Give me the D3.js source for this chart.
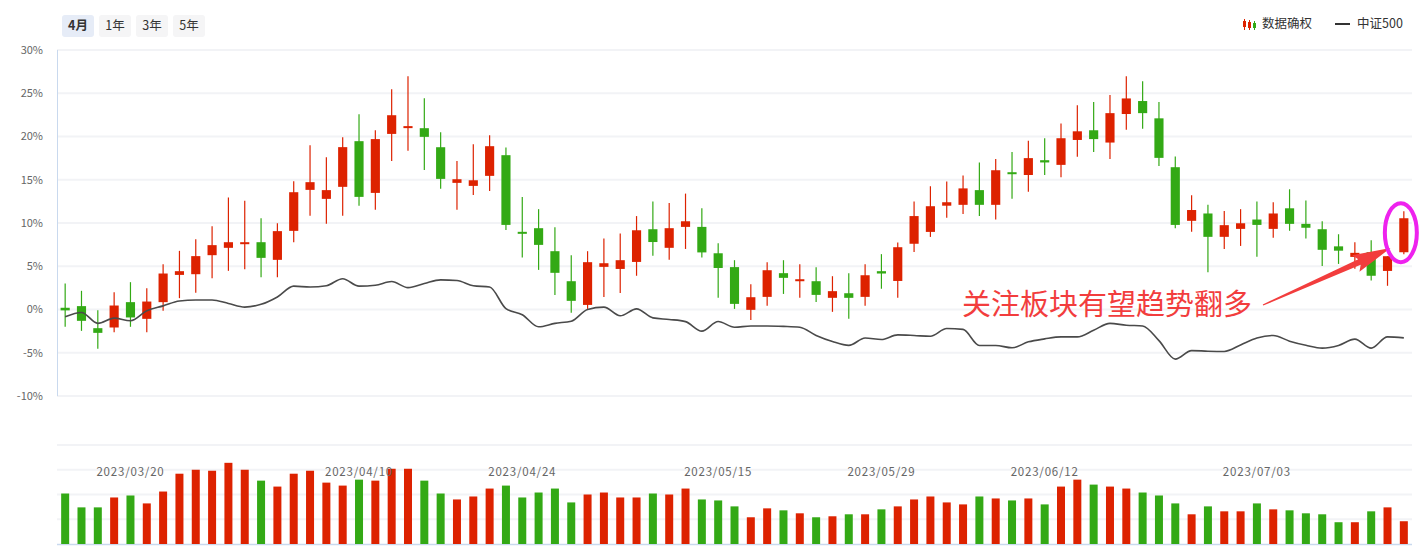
<!DOCTYPE html>
<html>
  <head>
    <meta charset="utf-8" />
    <title>数据确权 vs 中证500</title>
    <style>
      body { margin: 0; background: #fff; }
      svg text { font-family: "Noto Sans CJK SC", "Noto Sans", sans-serif; }
      .grid line { stroke: #f2f3f6; stroke-width: 2px; }
      .ylab { font-size: 11px; fill: #666; }
      .dlab { font-size: 11.5px; fill: #666; letter-spacing: 0.8px; }
    </style>
  </head>
  <body>
    <svg id="chart"></svg>

    <script src="https://cdn.jsdelivr.net/npm/d3@7"></script>
    <script>
      // trading days, 2023
      const dates = [
        "03/14","03/15","03/16","03/17","03/20","03/21","03/22","03/23","03/24","03/27",
        "03/28","03/29","03/30","03/31","04/03","04/04","04/06","04/07","04/10","04/11",
        "04/12","04/13","04/14","04/17","04/18","04/19","04/20","04/21","04/24","04/25",
        "04/26","04/27","04/28","05/04","05/05","05/08","05/09","05/10","05/11","05/12",
        "05/15","05/16","05/17","05/18","05/19","05/22","05/23","05/24","05/25","05/26",
        "05/29","05/30","05/31","06/01","06/02","06/05","06/06","06/07","06/08","06/09",
        "06/12","06/13","06/14","06/15","06/16","06/19","06/20","06/21","06/26","06/27",
        "06/28","06/29","06/30","07/03","07/04","07/05","07/06","07/07","07/10","07/11",
        "07/12","07/13","07/14"
      ].map((d) => "2023/" + d);

      // cumulative change, %
      const open = [
        0.2, 0.39, -2.16, -2.08, 0.85, -1.08, 0.85, 4.0, 4.08, 6.28,
        7.13, 7.6, 7.78, 5.74, 9.09, 13.83, 12.79, 14.18, 19.46, 13.48,
        20.3, 21.1, 20.96, 18.76, 14.64, 14.29, 15.45, 17.84, 8.98, 9.4,
        6.74, 3.27, 0.53, 4.93, 4.69, 5.5, 9.28, 7.13, 9.55, 9.55,
        6.5, 4.9, -0.04, 1.46, 4.2, 3.3, 3.27, 1.35, 1.88, 1.46,
        4.43, 3.3, 7.6, 8.97, 12.0, 12.1, 13.8, 12.1, 15.87, 15.55,
        17.26, 16.72, 19.6, 20.72, 19.3, 22.6, 24.1, 22.1, 16.45, 10.25,
        11.1, 8.4, 9.32, 10.4, 9.32, 11.7, 9.9, 9.28, 7.3, 6.08,
        6.63, 4.46, 6.62
      ];
      const close = [
        -0.1, -1.31, -2.7, 0.46, -0.92, 0.92, 4.16, 4.43, 6.17, 7.44,
        7.78, 7.78, 5.97, 9.06, 13.56, 14.72, 13.8, 18.77, 13.02, 19.7,
        22.46, 21.2, 19.96, 15.1, 15.06, 14.94, 18.88, 9.78, 8.75, 7.47,
        4.24, 1.0, 5.47, 5.35, 5.7, 9.16, 7.8, 9.4, 10.2, 6.6,
        4.8, 0.65, 1.42, 4.54, 3.66, 3.5, 1.69, 2.12, 1.35, 3.96,
        4.16, 7.2, 10.8, 11.94, 12.4, 14.0, 12.1, 16.1, 15.75, 17.5,
        17.0, 19.8, 20.6, 19.7, 22.7, 24.4, 22.7, 17.53, 9.78, 11.5,
        8.4, 9.75, 9.97, 9.78, 11.1, 9.9, 9.45, 6.9, 6.8, 6.55,
        3.9, 6.16, 10.55
      ];
      const high = [
        3.0, 2.16, -0.08, 2.0, 3.16, 2.47, 5.24, 6.78, 8.13, 9.63,
        12.95, 12.56, 10.56, 9.98, 14.84, 19.0, 17.6, 19.92, 22.58, 20.73,
        25.47, 26.97, 24.43, 20.5, 17.18, 19.1, 20.15, 18.72, 13.0, 11.6,
        9.5, 6.28, 6.74, 8.2, 8.8, 10.8, 12.5, 12.3, 13.4, 11.7,
        7.65, 5.7, 2.92, 5.47, 5.7, 5.24, 4.89, 3.85, 4.2, 5.24,
        6.4, 7.75, 12.5, 14.25, 14.8, 15.5, 17.0, 17.4, 18.2, 19.5,
        19.8, 21.5, 23.6, 24.0, 24.8, 26.97, 26.4, 24.0, 17.7, 13.2,
        12.1, 11.4, 11.6, 12.5, 12.4, 13.9, 12.6, 10.2, 8.7, 7.77,
        8.0, 6.16, 11.37
      ];
      const low = [
        -2.0, -2.47, -4.55, -2.62, -2.0, -2.62, -0.15, 1.31, 1.93, 3.62,
        4.47, 4.66, 3.74, 3.74, 7.78, 10.83, 9.9, 10.83, 11.98, 11.52,
        17.18, 18.34, 16.14, 13.95, 11.52, 13.25, 13.7, 9.2, 6.0, 4.58,
        1.67, -0.39, 0.07, 1.45, 1.9, 3.9, 6.2, 5.74, 7.0, 6.0,
        1.35, 0.07, -1.2, 0.42, 1.8, 1.35, 0.88, -0.27, -1.08, 0.42,
        2.4, 1.35, 6.66, 8.39, 10.6, 11.05, 10.8, 10.4, 12.8, 13.6,
        15.56, 15.3, 17.65, 18.2, 17.4, 20.77, 20.9, 16.6, 9.4, 9.0,
        4.3, 7.0, 7.35, 6.1, 8.3, 9.1, 8.2, 5.04, 5.27, 4.7,
        3.35, 2.74, 6.4
      ];
      // 中证500 cumulative change, %
      const csi500 = [
        -0.85, -0.35, -1.6, -1.0, -1.3, -0.15, 0.42, 0.98, 1.1, 1.1,
        0.7, 0.28, 0.6, 1.45, 2.7, 2.6, 2.75, 3.55, 2.7, 2.8,
        3.23, 2.53, 3.0, 3.43, 3.35, 2.75, 2.6, 0.1, -0.6, -2.0,
        -1.6, -1.35, 0.0, 0.27, -0.73, 0.07, -0.97, -1.15, -1.4, -2.5,
        -1.39, -2.05, -1.9, -1.9, -1.95, -2.05, -3.0, -3.7, -4.15, -3.3,
        -3.47, -2.93, -3.0, -3.1, -2.2, -2.3, -4.16, -4.16, -4.43, -3.74,
        -3.4, -3.17, -3.17, -2.4, -1.6, -1.82, -1.9, -3.6, -5.74, -4.75,
        -4.82, -4.85, -4.1, -3.3, -3.0, -3.66, -4.13, -4.47, -4.16, -3.43,
        -4.47, -3.17, -3.28
      ];
      const volume = [
        51, 37, 37, 47, 49, 41, 53, 71, 75, 74,
        82, 75, 64, 58, 71, 74, 62, 59, 65, 64,
        76, 76, 64, 51, 45, 48, 56, 59, 47, 52,
        56, 42, 50, 52, 47, 47, 51, 50, 56, 45,
        44, 38, 27, 36, 34, 31, 27, 28, 30, 30,
        35, 38, 45, 48, 42, 40, 48, 46, 44, 46,
        40, 58, 65, 60, 58, 56, 52, 49, 41, 30,
        38, 33, 33, 41, 35, 34, 31, 30, 22, 22,
        33, 37, 23
      ];
      const yTicks = [30, 25, 20, 15, 10, 5, 0, -5, -10];
      const dateTicks = ["2023/03/20", "2023/04/10", "2023/04/24", "2023/05/15", "2023/05/29", "2023/06/12", "2023/07/03"];
      const ranges = ["4月", "1年", "3年", "5年"];
      const note = "关注板块有望趋势翻多";

      const width = 1426;
      const height = 549;
      const red = "#dd2200";
      const green = "#33a915";

      const data = dates.map((d, i) => ({
        date: d, o: open[i], c: close[i], h: high[i], l: low[i],
        idx: csi500[i], vol: volume[i]
      }));

      const svg = d3.select("#chart").attr("width", width).attr("height", height);

      const x = d3.scaleBand().domain(dates).range([57, 1412]).padding(0);
      const cx = (d) => x(d) + x.bandwidth() / 2;
      const y = d3.scaleLinear().domain([-10, 30]).range([396, 50]);
      const yv = d3.scaleLinear().domain([0, 100]).range([544, 445]);

      // grid, price panel
      svg.append("g").attr("class", "grid")
        .selectAll("line").data(yTicks).join("line")
        .attr("x1", 57).attr("x2", 1412)
        .attr("y1", (d) => y(d)).attr("y2", (d) => y(d));
      svg.append("line")
        .attr("x1", 57.5).attr("x2", 57.5).attr("y1", 50).attr("y2", 396)
        .attr("stroke", "#c9d9ee").attr("stroke-width", 1);
      svg.append("g").selectAll("text").data(yTicks).join("text")
        .attr("class", "ylab")
        .attr("x", 43).attr("y", (d) => y(d))
        .attr("dy", "0.35em").attr("text-anchor", "end")
        .text((d) => d + "%");

      // grid, volume panel
      svg.append("g").attr("class", "grid")
        .selectAll("line").data([100, 75, 50, 25]).join("line")
        .attr("x1", 57).attr("x2", 1412)
        .attr("y1", (d) => yv(d)).attr("y2", (d) => yv(d));
      svg.append("line")
        .attr("x1", 57).attr("x2", 1412).attr("y1", 544.5).attr("y2", 544.5)
        .attr("stroke", "#c9d9ee").attr("stroke-width", 1.5);

      // candles
      const bw = x.bandwidth() * 0.56;
      const candle = svg.append("g").selectAll("g").data(data).join("g");
      candle.append("line")
        .attr("x1", (d) => cx(d.date)).attr("x2", (d) => cx(d.date))
        .attr("y1", (d) => y(d.h)).attr("y2", (d) => y(d.l))
        .attr("stroke", (d) => (d.c >= d.o ? red : green)).attr("stroke-width", 1.2);
      candle.append("rect")
        .attr("x", (d) => cx(d.date) - bw / 2).attr("width", bw)
        .attr("y", (d) => y(Math.max(d.o, d.c)))
        .attr("height", (d) => Math.max(2, Math.abs(y(d.o) - y(d.c))))
        .attr("fill", (d) => (d.c >= d.o ? red : green));

      // 中证500 line
      const line = d3.line().x((d) => cx(d.date)).y((d) => y(d.idx)).curve(d3.curveMonotoneX);
      svg.append("path").datum(data)
        .attr("d", line).attr("fill", "none")
        .attr("stroke", "#4a4a4a").attr("stroke-width", 1.6);

      // volume bars
      const vw = x.bandwidth() * 0.49;
      svg.append("g").selectAll("rect").data(data).join("rect")
        .attr("x", (d) => cx(d.date) - vw / 2).attr("width", vw)
        .attr("y", (d) => yv(d.vol)).attr("height", (d) => yv(0) - yv(d.vol))
        .attr("fill", (d) => (d.c >= d.o ? red : green));

      // date labels, drawn over the bars
      svg.append("g").selectAll("text").data(dateTicks).join("text")
        .attr("class", "dlab")
        .attr("x", (d) => cx(d)).attr("y", 472)
        .attr("dy", "0.35em").attr("text-anchor", "middle")
        .text((d) => d);

      // range buttons
      const btn = svg.append("g").selectAll("g").data(ranges).join("g")
        .attr("transform", (d, i) => `translate(${62 + i * 37},15)`);
      btn.append("rect")
        .attr("width", 32).attr("height", 22).attr("rx", 3)
        .attr("fill", (d, i) => (i === 0 ? "#e6ecf7" : "#f5f5f6"));
      btn.append("text")
        .attr("x", 16).attr("y", 11).attr("dy", "0.35em")
        .attr("text-anchor", "middle")
        .attr("font-size", 12.5)
        .attr("font-weight", (d, i) => (i === 0 ? "bold" : "normal"))
        .attr("fill", "#333")
        .text((d) => d);

      // legend
      const lg = svg.append("g");
      [[1244.5, red, 19, 30, 21, 27], [1249.5, red, 20, 30, 22, 28], [1254.5, green, 21, 30, 23, 28]]
        .forEach(([lx, col, a, b, c, e]) => {
          lg.append("line").attr("x1", lx).attr("x2", lx).attr("y1", a).attr("y2", b)
            .attr("stroke", col).attr("stroke-width", 1);
          lg.append("rect").attr("x", lx - 1.5).attr("width", 3).attr("y", c).attr("height", e - c)
            .attr("fill", col);
        });
      lg.append("text").attr("x", 1262).attr("y", 24).attr("dy", "0.35em")
        .attr("font-size", 12.5).attr("fill", "#333").text("数据确权");
      lg.append("line").attr("x1", 1335).attr("x2", 1350).attr("y1", 24).attr("y2", 24)
        .attr("stroke", "#333").attr("stroke-width", 2);
      lg.append("text").attr("x", 1357).attr("y", 24).attr("dy", "0.35em")
        .attr("font-size", 12.5).attr("fill", "#333").text("中证500");

      // annotation
      const last = data[data.length - 1];
      svg.append("text")
        .attr("x", 962).attr("y", 305).attr("dy", "0.35em")
        .attr("font-size", 29).attr("fill", "#f23d3d")
        .text(note);

      const tail = [1263, 305];
      const tip = [cx(data[data.length - 2].date) + 3, y(7.1)];
      const dx = tip[0] - tail[0], dy = tip[1] - tail[1];
      const len = Math.hypot(dx, dy);
      const u = [dx / len, dy / len], n = [-u[1], u[0]];
      const at = (p, a, b) => [p[0] + u[0] * a + n[0] * b, p[1] + u[1] * a + n[1] * b];
      const hb = len - 34;
      const arrow = [
        at(tail, 0, -0.6), at(tail, hb, -3), at(tail, hb - 4, -9), tip,
        at(tail, hb - 4, 9), at(tail, hb, 3), at(tail, 0, 0.6)
      ];
      svg.append("path")
        .attr("d", "M" + arrow.map((p) => p.join(",")).join("L") + "Z")
        .attr("fill", "#f23d3d");

      svg.append("ellipse")
        .attr("cx", cx(last.date) - 3).attr("cy", y((last.h + last.l) / 2))
        .attr("rx", 16).attr("ry", 29.5)
        .attr("fill", "none").attr("stroke", "#ee22ee").attr("stroke-width", 4);
    </script>
  </body>
</html>
